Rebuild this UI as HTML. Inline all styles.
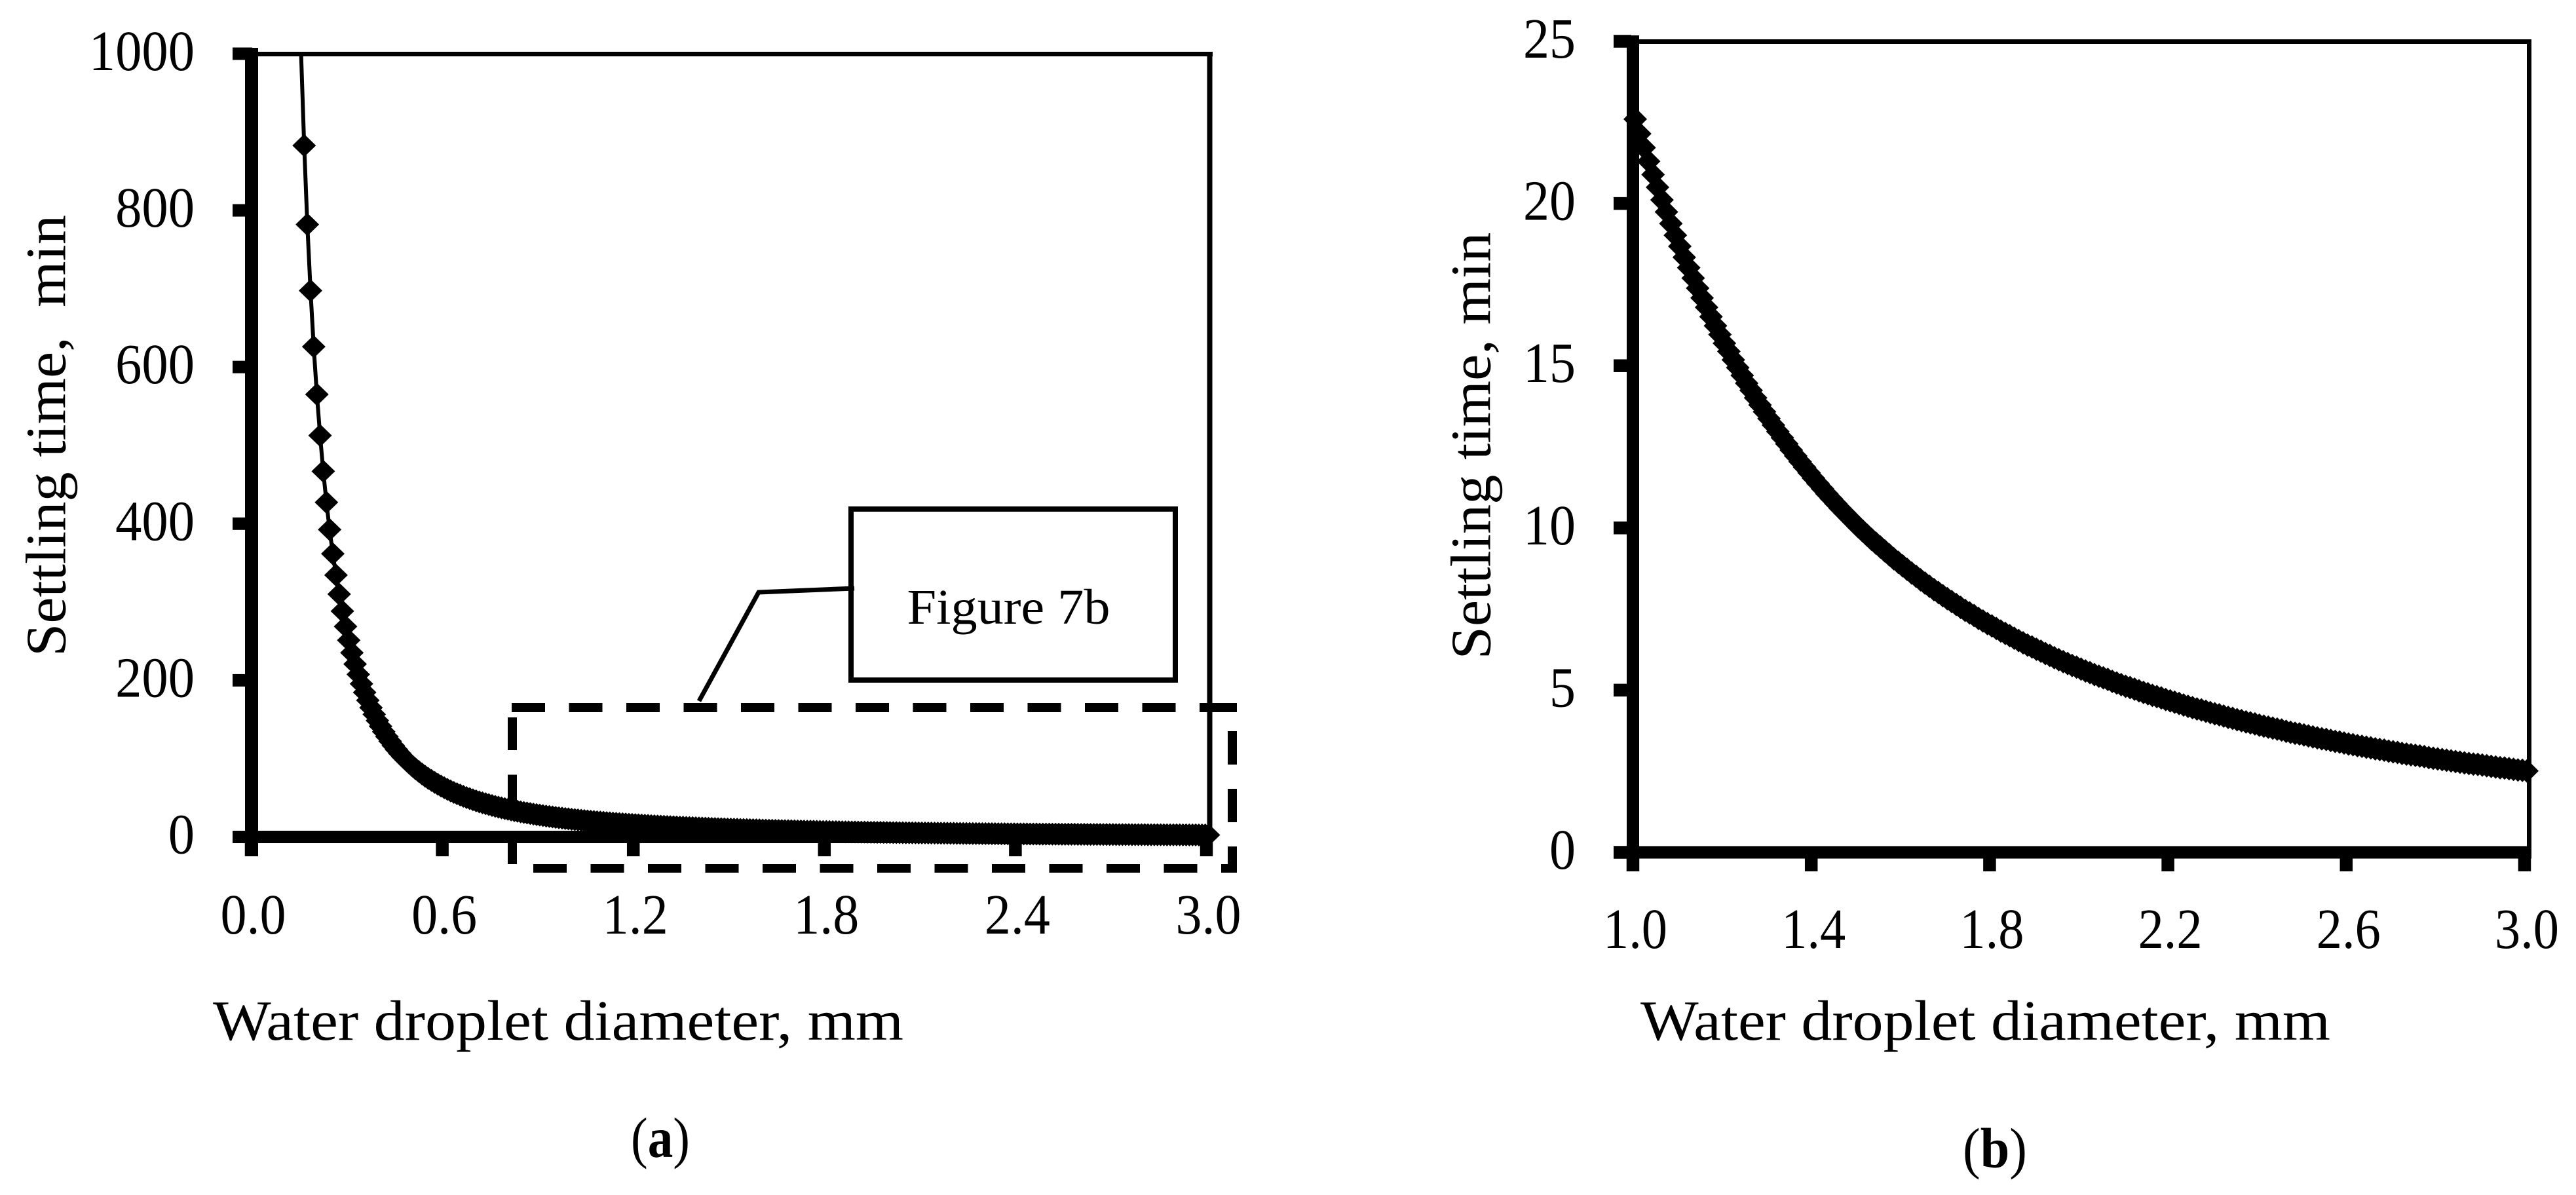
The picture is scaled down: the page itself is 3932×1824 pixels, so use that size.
<!DOCTYPE html>
<html lang="en">
<head>
<meta charset="utf-8">
<title>Settling time vs water droplet diameter</title>
<style>
html,body{margin:0;padding:0;background:#fff;}
svg{display:block;}
text{font-family:"Liberation Serif","DejaVu Serif",serif;fill:#000;white-space:pre;}
</style>
</head>
<body>
<svg id="figure" xmlns="http://www.w3.org/2000/svg" width="3932" height="1824" viewBox="0 0 3932 1824">
<rect x="0" y="0" width="3932" height="1824" fill="#fff"/>
<defs>
<clipPath id="plot-clip-a"><rect x="374" y="82" width="1560" height="1260"/></clipPath>
<clipPath id="plot-clip-b"><rect x="2470" y="63" width="1440" height="1260"/></clipPath>
</defs>

<g id="chart-a">
<rect x="385" y="79" width="1466" height="7" fill="#000"/>
<rect x="1842.5" y="79" width="8" height="1200" fill="#000"/>
<rect x="374" y="73" width="20" height="1234" fill="#000"/>
<rect x="355" y="1268" width="1495" height="19" fill="#000"/>
<g id="ticks-a"></g>
<g id="series-a"></g>
<line x1="781" y1="1080" x2="1882" y2="1080" stroke="#000" stroke-width="14" stroke-dasharray="51 36.5"/>
<line x1="1875" y1="1080" x2="1888" y2="1080" stroke="#000" stroke-width="14"/>
<line x1="782" y1="1095" x2="782" y2="1319" stroke="#000" stroke-width="14" stroke-dasharray="50 37.5"/>
<line x1="814" y1="1325.5" x2="1888" y2="1325.5" stroke="#000" stroke-width="13" stroke-dasharray="51 36.5"/>
<line x1="1881" y1="1116" x2="1881" y2="1331" stroke="#000" stroke-width="14" stroke-dasharray="51 37"/>
<polyline points="1067,1070 1158,904 1304,898" fill="none" stroke="#000" stroke-width="7"/>
<rect x="1299" y="777" width="495" height="261" fill="#fff" stroke="#000" stroke-width="8"/>
<line x1="1295" y1="898.4" x2="1304" y2="898" stroke="#000" stroke-width="7"/>
<text x="1384.5" y="952" font-size="76" textLength="310" lengthAdjust="spacingAndGlyphs">Figure 7b</text>
<text transform="translate(99.5,1002) rotate(-90)" font-size="87" textLength="674" lengthAdjust="spacingAndGlyphs">Settling time,  min</text>
<text x="325" y="1587" font-size="87" textLength="1054" lengthAdjust="spacingAndGlyphs">Water droplet diameter, mm</text>
<text x="963" y="1766" font-size="87" textLength="90" lengthAdjust="spacingAndGlyphs">(<tspan font-weight="bold">a</tspan>)</text>
</g>

<g id="chart-b">
<rect x="2502" y="60" width="1362" height="7" fill="#000"/>
<rect x="3857" y="60" width="7" height="1240" fill="#000"/>
<rect x="2483" y="54" width="19" height="1276" fill="#000"/>
<rect x="2463" y="1291.5" width="1401" height="19" fill="#000"/>
<g id="ticks-b"></g>
<g id="series-b"></g>
<text transform="translate(2274.5,1006.5) rotate(-90)" font-size="87" textLength="652" lengthAdjust="spacingAndGlyphs">Settling time, min</text>
<text x="2504" y="1587" font-size="87" textLength="1053" lengthAdjust="spacingAndGlyphs">Water droplet diameter, mm</text>
<text x="2996" y="1782" font-size="87" textLength="98" lengthAdjust="spacingAndGlyphs">(<tspan font-weight="bold">b</tspan>)</text>
</g>
</svg>

<script>
const xTicksA = [0.0, 0.6, 1.2, 1.8, 2.4, 3.0];
const xTickLabelsA = ["0.0", "0.6", "1.2", "1.8", "2.4", "3.0"];
const yTicksA = [0, 200, 400, 600, 800, 1000];
const yTickLabelsA = ["0", "200", "400", "600", "800", "1000"];
const xTicksB = [1.0, 1.4, 1.8, 2.2, 2.6, 3.0];
const xTickLabelsB = ["1.0", "1.4", "1.8", "2.2", "2.6", "3.0"];
const yTicksB = [0, 5, 10, 15, 20, 25];
const yTickLabelsB = ["0", "5", "10", "15", "20", "25"];

const smallDiameters = [0.15,0.16,0.17,0.18,0.19,0.20,0.21,0.22,0.23,0.24,0.25,0.26,0.27,0.28,0.29,0.30,0.31,0.32,0.33,0.34,0.35,0.36,0.37,0.38,0.39,0.40,0.41,0.42,0.43,0.44,0.45,0.46,0.47,0.48,0.49,0.50,0.51,0.52,0.53,0.54,0.55,0.56,0.57,0.58,0.59,0.60,0.61,0.62,0.63,0.64,0.65,0.66,0.67,0.68,0.69,0.70,0.71,0.72,0.73,0.74,0.75,0.76,0.77,0.78,0.79,0.80,0.81,0.82,0.83,0.84,0.85,0.86,0.87,0.88,0.89,0.90,0.91,0.92,0.93,0.94,0.95,0.96,0.97,0.98,0.99];
const smallDiameterTimes = [1004.4,882.8,782.0,697.5,626.0,565.0,512.5,466.9,427.2,392.4,361.6,334.3,310.0,288.3,268.7,251.1,235.2,220.7,207.5,195.5,184.5,174.4,165.1,156.5,148.6,141.3,134.4,128.1,122.2,116.7,111.6,106.8,102.3,98.1,94.1,90.4,86.9,83.6,80.5,77.5,74.7,72.1,69.6,67.2,64.9,62.8,60.7,58.8,56.9,55.2,53.5,51.9,50.3,48.9,47.5,46.1,44.8,43.6,42.4,41.3,40.2,39.1,38.1,37.1,36.2,35.3,34.4,33.6,32.8,32.0,31.3,30.6,29.9,29.2,28.5,27.9,27.3,26.7,26.1,25.6,25.0,24.5,24.0,23.5,23.1];

const largeDiameters = [1.00,1.01,1.02,1.03,1.04,1.05,1.06,1.07,1.08,1.09,1.10,1.11,1.12,1.13,1.14,1.15,1.16,1.17,1.18,1.19,1.20,1.21,1.22,1.23,1.24,1.25,1.26,1.27,1.28,1.29,1.30,1.31,1.32,1.33,1.34,1.35,1.36,1.37,1.38,1.39,1.40,1.41,1.42,1.43,1.44,1.45,1.46,1.47,1.48,1.49,1.50,1.51,1.52,1.53,1.54,1.55,1.56,1.57,1.58,1.59,1.60,1.61,1.62,1.63,1.64,1.65,1.66,1.67,1.68,1.69,1.70,1.71,1.72,1.73,1.74,1.75,1.76,1.77,1.78,1.79,1.80,1.81,1.82,1.83,1.84,1.85,1.86,1.87,1.88,1.89,1.90,1.91,1.92,1.93,1.94,1.95,1.96,1.97,1.98,1.99,2.00,2.01,2.02,2.03,2.04,2.05,2.06,2.07,2.08,2.09,2.10,2.11,2.12,2.13,2.14,2.15,2.16,2.17,2.18,2.19,2.20,2.21,2.22,2.23,2.24,2.25,2.26,2.27,2.28,2.29,2.30,2.31,2.32,2.33,2.34,2.35,2.36,2.37,2.38,2.39,2.40,2.41,2.42,2.43,2.44,2.45,2.46,2.47,2.48,2.49,2.50,2.51,2.52,2.53,2.54,2.55,2.56,2.57,2.58,2.59,2.60,2.61,2.62,2.63,2.64,2.65,2.66,2.67,2.68,2.69,2.70,2.71,2.72,2.73,2.74,2.75,2.76,2.77,2.78,2.79,2.80,2.81,2.82,2.83,2.84,2.85,2.86,2.87,2.88,2.89,2.90,2.91,2.92,2.93,2.94,2.95,2.96,2.97,2.98,2.99,3.00];
const largeDiameterTimes = [22.60,22.15,21.72,21.30,20.89,20.50,20.11,19.74,19.38,19.02,18.68,18.34,18.02,17.70,17.39,17.09,16.80,16.51,16.23,15.96,15.69,15.44,15.18,14.94,14.70,14.46,14.24,14.01,13.79,13.58,13.37,13.17,12.97,12.78,12.59,12.40,12.22,12.04,11.87,11.70,11.53,11.37,11.21,11.05,10.90,10.75,10.60,10.46,10.32,10.18,10.04,9.91,9.78,9.65,9.53,9.41,9.29,9.17,9.05,8.94,8.83,8.72,8.61,8.51,8.40,8.30,8.20,8.10,8.01,7.91,7.82,7.73,7.64,7.55,7.46,7.38,7.30,7.21,7.13,7.05,6.98,6.90,6.82,6.75,6.68,6.60,6.53,6.46,6.39,6.33,6.26,6.20,6.13,6.07,6.00,5.94,5.88,5.82,5.76,5.71,5.65,5.59,5.54,5.48,5.43,5.38,5.33,5.27,5.22,5.17,5.12,5.08,5.03,4.98,4.93,4.89,4.84,4.80,4.76,4.71,4.67,4.63,4.59,4.54,4.50,4.46,4.42,4.39,4.35,4.31,4.27,4.24,4.20,4.16,4.13,4.09,4.06,4.02,3.99,3.96,3.92,3.89,3.86,3.83,3.80,3.77,3.73,3.70,3.67,3.65,3.62,3.59,3.56,3.53,3.50,3.48,3.45,3.42,3.40,3.37,3.34,3.32,3.29,3.27,3.24,3.22,3.19,3.17,3.15,3.12,3.10,3.08,3.05,3.03,3.01,2.99,2.97,2.95,2.92,2.90,2.88,2.86,2.84,2.82,2.80,2.78,2.76,2.74,2.72,2.71,2.69,2.67,2.65,2.63,2.61,2.60,2.58,2.56,2.54,2.53,2.51];

const SVGNS = "http://www.w3.org/2000/svg";
function xA(v){ return 386.5 + 486 * v; }
function yA(v){ return 1277.5 - 1.1955 * v; }
function xB(v){ return 2496 + 680.5 * (v - 1); }
function yB(v){ return 1301 - 49.52 * v; }

function makeBar(parent, x, y, w, h, name){
  const el = document.createElementNS(SVGNS, "rect");
  
  
  el.setAttribute("x", x);
  el.setAttribute("y", y);
  el.setAttribute("width", w);
  el.setAttribute("height", h);
  el.setAttribute("fill", "#000");
  parent.appendChild(el);
}
function makeLabel(parent, x, y, len, str, name){
  const el = document.createElementNS(SVGNS, "text");
  
  
  el.setAttribute("x", x);
  el.setAttribute("y", y);
  el.setAttribute("font-size", "87");
  el.setAttribute("textLength", len);
  el.setAttribute("lengthAdjust", "spacingAndGlyphs");
  el.textContent = str;
  parent.appendChild(el);
}
function drawTicks(group, xs, xLabels, ys, yLabels, xFn, yFn, cfg){
  xs.forEach(function(v, i){
    const c = xFn(v) - cfg.xTickShift;
    makeBar(group, c - cfg.xTickW / 2, cfg.axisY, cfg.xTickW, cfg.xTickBottom - cfg.axisY, "x-tick");
    makeLabel(group, xFn(v) - cfg.xLabelW / 2, cfg.xLabelBaseline, cfg.xLabelW, xLabels[i], "x-tick-label");
  });
  ys.forEach(function(v, i){
    const c = yFn(v);
    makeBar(group, cfg.yTickLeft, c - cfg.yTickH / 2, cfg.yTickRight - cfg.yTickLeft, cfg.yTickH, "y-tick");
    const len = yLabels[i].length * cfg.digitW;
    makeLabel(group, cfg.yLabelRight - len, c + cfg.yLabelDrop, len, yLabels[i], "y-tick-label");
  });
}
function drawSeries(group, xs, ys, yMax, xFn, yFn, clipId, rx, ry){
  const line = document.createElementNS(SVGNS, "polyline");
  
  
  line.setAttribute("points", xs.map(function(d, i){ return xFn(d).toFixed(1) + "," + yFn(ys[i]).toFixed(1); }).join(" "));
  line.setAttribute("fill", "none");
  line.setAttribute("stroke", "#000");
  line.setAttribute("stroke-width", "6");
  line.setAttribute("clip-path", "url(#" + clipId + ")");
  group.appendChild(line);
  xs.forEach(function(d, i){
    if (ys[i] > yMax) return;
    const cx = xFn(d), cy = yFn(ys[i]);
    const m = document.createElementNS(SVGNS, "polygon");
    
    
    m.setAttribute("points", (cx - rx) + "," + cy + " " + cx + "," + (cy - ry) + " " + (cx + rx) + "," + cy + " " + cx + "," + (cy + ry));
    m.setAttribute("fill", "#000");
    group.appendChild(m);
  });
}

drawTicks(document.getElementById("ticks-a"), xTicksA, xTickLabelsA, yTicksA, yTickLabelsA, xA, yA, {
  xTickShift: 3, xTickW: 19.5, axisY: 1280, xTickBottom: 1307, xLabelW: 100, xLabelBaseline: 1425,
  yTickLeft: 355, yTickRight: 385, yTickH: 19, digitW: 40.3, yLabelRight: 297, yLabelDrop: 25
});
drawTicks(document.getElementById("ticks-b"), xTicksB, xTickLabelsB, yTicksB, yTickLabelsB, xB, yB, {
  xTickShift: 3.5, xTickW: 19.5, axisY: 1300, xTickBottom: 1330, xLabelW: 98, xLabelBaseline: 1447,
  yTickLeft: 2463, yTickRight: 2490, yTickH: 19.5, digitW: 40, yLabelRight: 2405, yLabelDrop: 25
});
drawSeries(document.getElementById("series-a"), smallDiameters.concat(largeDiameters), smallDiameterTimes.concat(largeDiameterTimes), 1000, xA, yA, "plot-clip-a", 18, 17.5);
drawSeries(document.getElementById("series-b"), largeDiameters, largeDiameterTimes, 25, xB, yB, "plot-clip-b", 18, 18);
</script>
</body>
</html>
